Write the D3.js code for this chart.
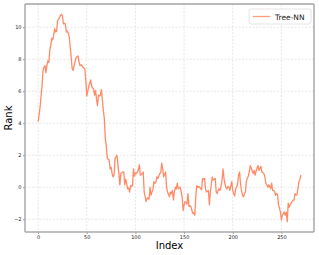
<!DOCTYPE html>
<html>
<head>
<meta charset="utf-8">
<script src="https://cdn.jsdelivr.net/npm/d3@7"></script>
<style>
  body { margin: 0; background: #fff; }
  svg { display: block; font-family: "DejaVu Sans", sans-serif; }
</style>
</head>
<body>
<div id="chart"></div>
<script>
// Rank series, one value per index
var seriesName = 'Tree-NN';
var rankValues = [
    4.1, 4.5, 5.0, 5.7, 6.3, 7.3, 7.5, 7.6, 7.15, 7.6,
    7.9, 7.8, 8.55, 8.9, 9.3, 9.2, 9.5, 9.9, 9.7, 9.75,
    10.4, 10.5, 10.6, 10.75, 10.8, 10.7, 10.2, 10.25, 10.2, 9.7,
    9.75, 9.6, 9.4, 8.75, 8.1, 7.4, 7.3, 7.6, 7.85, 8.1,
    8.15, 8.2, 7.85, 7.6, 7.65, 7.6, 7.5, 7.45, 7.4, 6.7,
    5.7, 6.0, 6.3, 6.5, 6.7, 6.3, 6.2, 6.15, 5.75, 6.05,
    5.5, 5.1, 5.75, 5.7, 5.75, 6.1, 5.45, 4.8, 4.3, 3.05,
    2.6, 1.85, 1.75, 1.7, 1.15, 1.25, 0.85, 0.65, 0.75, 1.8,
    1.9, 2.0, 1.4, 0.85, 0.15, 0.85, 0.9, 0.95, 0.95, 0.15,
    0.5, 0.2, -0.1, -0.05, -0.3, 0.1, 0.05, 0.1, 1.15, 0.7,
    0.9, 0.85, 0.95, 1.1, 1.4, 0.75, 0.8, 0.85, 0.95, -0.3,
    -0.6, -0.9, -0.7, -0.65, -0.75, 0.0, -0.5, -0.3, -0.15, 0.35,
    0.25, 0.3, 0.65, 0.55, 0.7, 0.85, 0.9, 1.5, 1.15, 0.65,
    0.8, 0.95, 0.0, -0.3, -0.45, -0.6, -0.3, -0.4, -0.2, -0.8,
    -0.3, 0.0, -0.1, 0.25, -0.1, -0.05, 0.0, -0.3, -0.6, -1.45,
    -1.1, -0.9, -0.95, -1.05, -0.4, -1.2, -1.15, -1.2, -1.45, -1.65,
    -1.6, -1.75, -0.6, 0.1, 0.0, 0.05, 0.0, -0.1, -0.15, 0.55,
    0.5, 0.55, -0.1, -0.3, -0.25, -0.2, -1.1, -0.3, 0.2, 0.65,
    0.45, 0.5, 0.55, -0.3, -0.4, -0.2, -0.1, -0.2, 0.1, 0.4,
    1.15, 0.55, 0.2, 0.0, -0.1, 0.05, 0.0, -0.2, 0.1, 0.35,
    -0.2, -0.4, -0.55, -0.1, 0.0, 0.2, 0.75, 0.95, 0.2, -0.2,
    -0.5, -0.6, -0.4, -0.3, 0.35, 0.55, 0.7, 0.95, 1.35, 1.2,
    1.0, 0.85, 1.05, 0.75, 1.0, 1.2, 1.35, 1.05, 1.2, 1.3,
    0.95, 0.9, 0.85, 0.65, 0.25, 0.15, 0.0, 0.15, 0.05, -0.1,
    0.25, -0.2, -0.2, -0.25, -0.5, -0.4, -0.45, -1.1, -1.3, -1.55,
    -2.05, -1.75, -1.65, -1.55, -1.75, -1.55, -2.15, -1.0, -1.25, -1.1,
    -1.0, -0.9, -0.8, -0.8, -0.4, -0.5, -0.45, -0.1, 0.35, 0.5,
    0.75
];
var xTicks = [0, 50, 100, 150, 200, 250];
var yTicks = [-2, 0, 2, 4, 6, 8, 10];

var width = 319, height = 255;
var margin = {top: 4, right: 5, bottom: 23, left: 25};
var plotW = width - margin.left - margin.right;
var plotH = height - margin.top - margin.bottom;

var svg = d3.select('#chart').append('svg')
    .attr('width', width)
    .attr('height', height);

var g = svg.append('g')
    .attr('transform', 'translate(' + margin.left + ',' + margin.top + ')');

// matplotlib style 5% padding
var n = rankValues.length - 1;
var yMin = d3.min(rankValues), yMax = d3.max(rankValues);
var x = d3.scaleLinear()
    .domain([-0.05 * n, n * 1.05])
    .range([0, plotW]);
var y = d3.scaleLinear()
    .domain([yMin - 0.05 * (yMax - yMin), yMax + 0.05 * (yMax - yMin)])
    .range([plotH, 0]);

// grid
g.selectAll('.xgrid').data(xTicks).enter().append('line')
    .attr('class', 'xgrid')
    .attr('x1', function (d) { return x(d); })
    .attr('x2', function (d) { return x(d); })
    .attr('y1', 0).attr('y2', plotH)
    .attr('stroke', '#dcdcdc').attr('stroke-width', 0.7)
    .attr('stroke-dasharray', '2,1.5');
g.selectAll('.ygrid').data(yTicks).enter().append('line')
    .attr('class', 'ygrid')
    .attr('y1', function (d) { return y(d); })
    .attr('y2', function (d) { return y(d); })
    .attr('x1', 0).attr('x2', plotW)
    .attr('stroke', '#dcdcdc').attr('stroke-width', 0.7)
    .attr('stroke-dasharray', '2,1.5');

// axes
var xAxis = g.append('g')
    .attr('transform', 'translate(0,' + plotH + ')')
    .call(d3.axisBottom(x).tickValues(xTicks).tickSize(2).tickPadding(1));
var yAxis = g.append('g')
    .call(d3.axisLeft(y).tickValues(yTicks).tickSize(2).tickPadding(1.5)
        .tickFormat(function (d) { return d < 0 ? '\u2212' + Math.abs(d) : d; }));

[xAxis, yAxis].forEach(function (a) {
    a.select('.domain').remove();
    a.selectAll('.tick line').attr('stroke', '#555').attr('stroke-width', 0.6);
    a.selectAll('.tick text')
        .attr('fill', '#222')
        .style('font-size', '5px')
        .style('font-family', '"DejaVu Sans", sans-serif');
});

// line
var line = d3.line()
    .x(function (d, i) { return x(i); })
    .y(function (d) { return y(d); });

g.append('path')
    .datum(rankValues)
    .attr('fill', 'none')
    .attr('stroke', '#ff8a65')
    .attr('stroke-width', 1.3)
    .attr('stroke-linejoin', 'round')
    .attr('d', line);

// spines
g.append('line').attr('x1', 0).attr('x2', plotW).attr('y1', 0).attr('y2', 0)
    .attr('stroke', '#777').attr('stroke-width', 1);
g.append('line').attr('x1', plotW).attr('x2', plotW).attr('y1', 0).attr('y2', plotH)
    .attr('stroke', '#aaa').attr('stroke-width', 1.5);
g.append('line').attr('x1', 0).attr('x2', 0).attr('y1', 0).attr('y2', plotH)
    .attr('stroke', '#aaa').attr('stroke-width', 1.5);
g.append('line').attr('x1', 0).attr('x2', plotW).attr('y1', plotH).attr('y2', plotH)
    .attr('stroke', '#aaa').attr('stroke-width', 1.5);

// axis titles
svg.append('text')
    .attr('x', margin.left + plotW / 2)
    .attr('y', 249)
    .attr('text-anchor', 'middle')
    .style('font-size', '10px')
    .text('Index');
svg.append('text')
    .attr('transform', 'translate(12,' + (margin.top + plotH / 2) + ') rotate(-90)')
    .attr('text-anchor', 'middle')
    .style('font-size', '10px')
    .text('Rank');

// legend
var legend = g.append('g')
    .attr('transform', 'translate(' + (plotW - 65) + ',5)');
legend.append('rect')
    .attr('width', 62).attr('height', 15)
    .attr('rx', 2)
    .attr('fill', '#fff').attr('fill-opacity', 0.85)
    .attr('stroke', '#ddd').attr('stroke-width', 0.8);
legend.append('line')
    .attr('x1', 4).attr('x2', 21).attr('y1', 7.5).attr('y2', 7.5)
    .attr('stroke', '#ff9c7c').attr('stroke-width', 1.3);
legend.append('text')
    .attr('x', 26).attr('y', 10.5)
    .style('font-size', '7.5px')
    .attr('fill', '#222')
    .text(seriesName);
</script>
</body>
</html>
